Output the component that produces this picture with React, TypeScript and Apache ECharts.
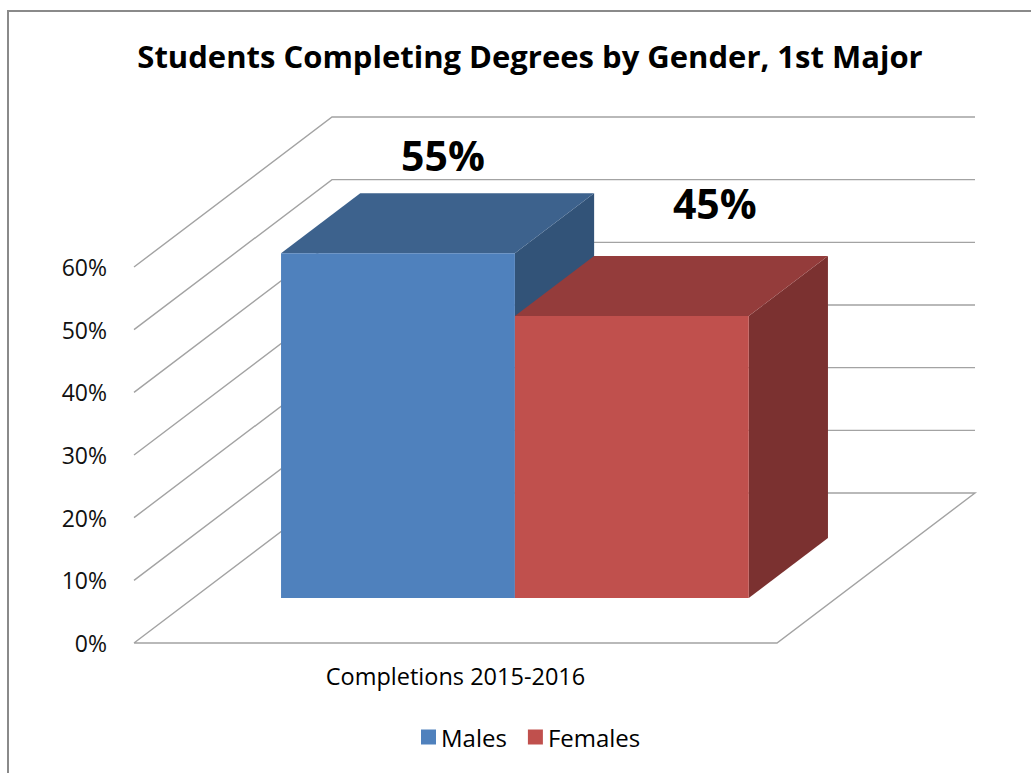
import React, { useEffect, useRef } from "react";
import * as echarts from "echarts";

const CATEGORIES = ["Completions 2015-2016"];
const MALES = [55];
const FEMALES = [45];
const Y_TICKS = [0, 10, 20, 30, 40, 50, 60];

const FONT = "'Open Sans', Lato, sans-serif";
const DX = 198;
const DY = -150;
const FRONT = 0.3;
const BACK = 0.7;
const BAR_FRAC = 0.3637;

function barRenderer(
  slot: number,
  front: string,
  top: string,
  side: string,
  labelDx: number,
  labelDy: number
) {
  return (params: any, api: any) => {
    const idx = api.value(0);
    const v = api.value(1);
    const [cx, y0] = api.coord([idx, 0]);
    const y1 = api.coord([idx, v])[1];
    const band = api.size([1, 0])[0];
    const w = band * BAR_FRAC;
    const left = cx - w + slot * w;
    const fx = DX * FRONT, fy = DY * FRONT;
    const bx = DX * BACK, by = DY * BACK;
    const L = left + fx, R = left + w + fx;
    const T = y1 + fy, B = y0 + fy;
    const ddx = bx - fx, ddy = by - fy;
    return {
      type: "group",
      children: [
        {
          type: "polygon",
          shape: { points: [[R, T], [R + ddx, T + ddy], [R + ddx, B + ddy], [R, B]] },
          style: { fill: side },
        },
        {
          type: "polygon",
          shape: { points: [[L, T], [R, T], [R + ddx, T + ddy], [L + ddx, T + ddy]] },
          style: { fill: top },
        },
        {
          type: "rect",
          shape: { x: L, y: T, width: w, height: B - T },
          style: { fill: front },
        },
        {
          type: "text",
          style: {
            text: v + "%",
            x: (L + R) / 2 + labelDx,
            y: T + labelDy,
            align: "center",
            verticalAlign: "middle",
            font: `bold 41px ${FONT}`,
            fill: "#000",
          },
        },
      ],
    };
  };
}

export default function App() {
  const ref = useRef<HTMLDivElement>(null);
  useEffect(() => {
    if (!ref.current) return;
    const chart = echarts.init(ref.current, undefined, { renderer: "svg" });
    chart.setOption({
      animation: false,
      backgroundColor: "#fff",
      title: {
        text: "Students Completing Degrees by Gender, 1st Major",
        left: 525,
        top: 35,
        textAlign: "center",
        textStyle: { fontFamily: FONT, fontSize: 31, fontWeight: "bold", color: "#000" },
      },
      legend: {
        left: 416,
        top: 720,
        icon: "rect",
        itemWidth: 15,
        itemHeight: 15,
        itemGap: 21,
        textStyle: { fontFamily: FONT, fontSize: 24, color: "#000" },
        data: [
          { name: "Males", itemStyle: { color: "#4F81BD" } },
          { name: "Females", itemStyle: { color: "#C0504D" } },
        ],
      },
      graphic: [
        {
          type: "rect",
          shape: { x: 8, y: 11, width: 1200, height: 1000 },
          style: { fill: "none", stroke: "#8a8a8a", lineWidth: 2 },
          silent: true,
        },
      ],
      grid: { left: 134, right: 254, top: 267, bottom: 130 },
      xAxis: {
        type: "category",
        data: CATEGORIES,
        axisLine: { show: false },
        axisTick: { show: false },
        axisLabel: { fontFamily: FONT, fontSize: 23.5, color: "#000", margin: 21 },
      },
      yAxis: {
        type: "value",
        min: 0,
        max: 60,
        interval: 10,
        axisLine: { show: false },
        axisTick: { show: false },
        splitLine: { show: false },
        axisLabel: { fontFamily: FONT, fontSize: 23, color: "#111", margin: 27, formatter: "{value}%" },
      },
      series: [
        {
          type: "custom",
          name: "grid3d",
          silent: true,
          z: 1,
          data: Y_TICKS.map((v) => [0, v]),
          encode: { x: 0, y: 1 },
          renderItem: (params: any, api: any) => {
            const cs = params.coordSys;
            const v = api.value(1);
            const y = api.coord([0, v])[1];
            const x0 = cs.x, x1 = cs.x + cs.width;
            const pts =
              v === 0
                ? [[x0, y], [x1, y], [x1 + DX, y + DY], [x0 + DX, y + DY], [x0, y]]
                : [[x0, y], [x0 + DX, y + DY], [x1 + DX, y + DY]];
            return {
              type: "polyline",
              shape: { points: pts },
              style: { stroke: "#a3a3a3", lineWidth: 1.4, fill: null },
            };
          },
        },
        {
          type: "custom",
          name: "Males",
          z: 2,
          itemStyle: { color: "#4F81BD" },
          data: CATEGORIES.map((c, i) => [i, MALES[i]]),
          encode: { x: 0, y: 1 },
          renderItem: barRenderer(0, "#4F81BD", "#3D628D", "#325378", 45, -98),
        },
        {
          type: "custom",
          name: "Females",
          z: 3,
          itemStyle: { color: "#C0504D" },
          data: CATEGORIES.map((c, i) => [i, FEMALES[i]]),
          encode: { x: 0, y: 1 },
          renderItem: barRenderer(1, "#C0504D", "#943C3B", "#7B3130", 83, -113),
        },
      ],
    });
    return () => chart.dispose();
  }, []);
  return (
    <div
      ref={ref}
      style={{ position: "fixed", left: 0, top: 0, width: 1031, height: 773 }}
    />
  );
}
